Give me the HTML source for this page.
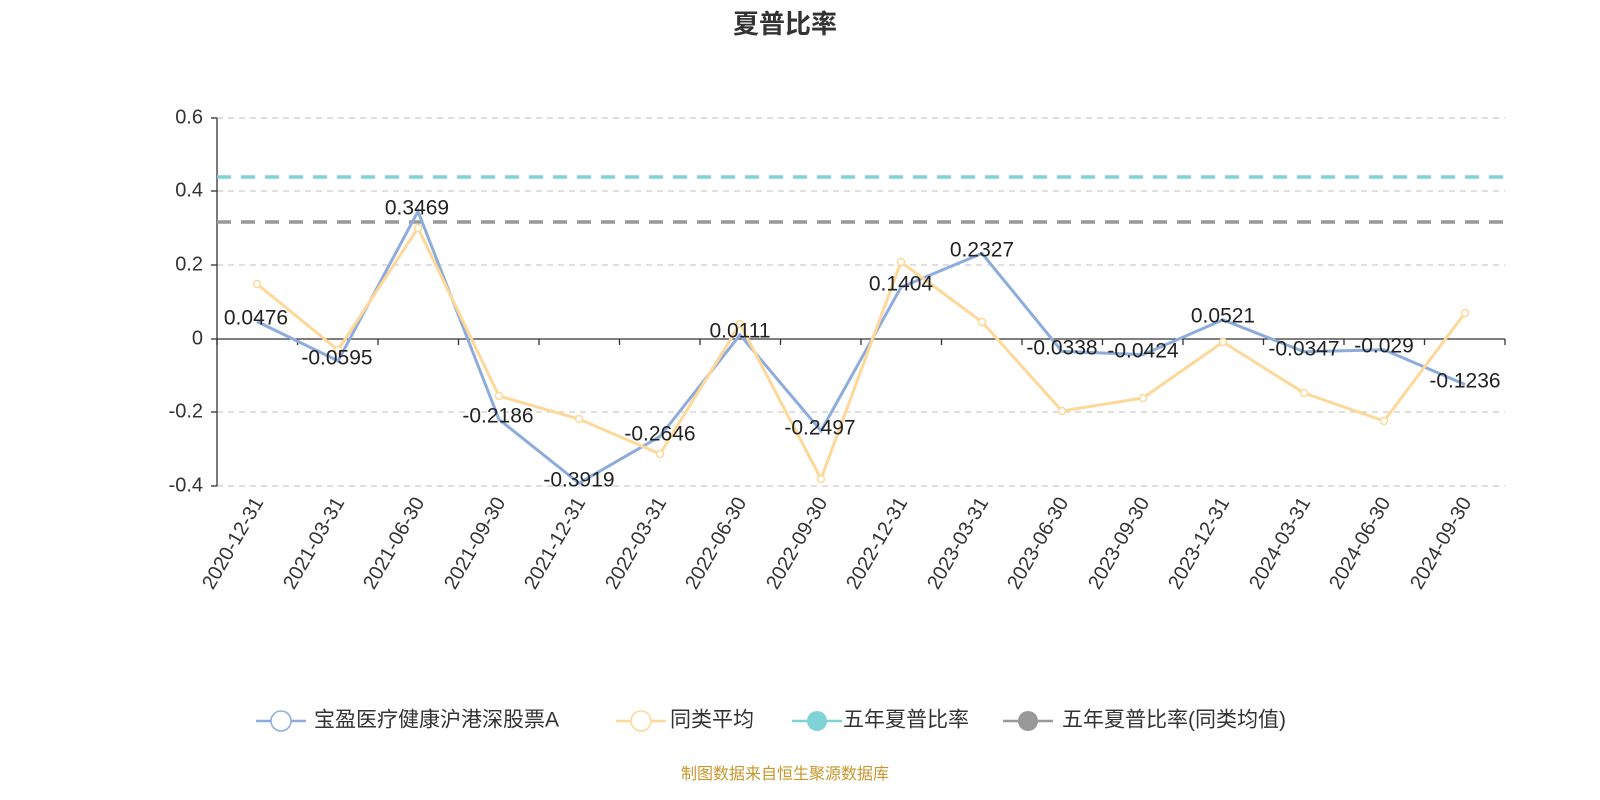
<!DOCTYPE html><html><head><meta charset="utf-8"><style>body{margin:0;background:#fff}svg{display:block}text{font-family:"Liberation Sans","Noto Sans CJK SC",sans-serif}</style></head><body>
<svg width="1600" height="800" xmlns="http://www.w3.org/2000/svg">
<text x="785" y="33" text-anchor="middle" font-size="26" font-weight="bold" fill="#333">夏普比率</text>
<g stroke="#ccc" stroke-dasharray="6,5" stroke-width="1.3">
<line x1="217" x2="1505" y1="118" y2="118"/><line x1="217" x2="1505" y1="191" y2="191"/><line x1="217" x2="1505" y1="265" y2="265"/><line x1="217" x2="1505" y1="412" y2="412"/><line x1="217" x2="1505" y1="486" y2="486"/></g>
<g font-size="20" fill="#333" text-anchor="end" dominant-baseline="middle">
<text x="203" y="118">0.6</text><text x="203" y="191">0.4</text><text x="203" y="265">0.2</text><text x="203" y="339">0</text><text x="203" y="412">-0.2</text><text x="203" y="486">-0.4</text></g>
<g stroke="#333" stroke-width="1.3"><line x1="217" x2="217" y1="118" y2="486"/><line x1="211" x2="217" y1="118" y2="118"/><line x1="211" x2="217" y1="191" y2="191"/><line x1="211" x2="217" y1="265" y2="265"/><line x1="211" x2="217" y1="339" y2="339"/><line x1="211" x2="217" y1="412" y2="412"/><line x1="211" x2="217" y1="486" y2="486"/>
<line x1="217" x2="1505" y1="339" y2="339"/>
<path d="M217 339v6M297.5 339v6M378 339v6M458.5 339v6M539 339v6M619.5 339v6M700 339v6M780.5 339v6M861 339v6M941.5 339v6M1022 339v6M1102.5 339v6M1183 339v6M1263.5 339v6M1344 339v6M1424.5 339v6M1505 339v6"/></g>
<line x1="217" x2="1505" y1="177" y2="177" stroke="#7fd3d6" stroke-width="3.5" stroke-dasharray="14,10"/>
<line x1="217" x2="1505" y1="222" y2="222" stroke="#999" stroke-width="3.5" stroke-dasharray="14,10"/>
<polyline fill="none" stroke="#8eacdb" stroke-width="3" points="257,321.5 338,360.9 418,211.3 499,419.4 579,483.2 660,436.4 740,334.9 821,430.9 901,287.3 982,253.4 1062,351.4 1143,354.6 1223,319.8 1304,351.8 1384,349.7 1465,384.5"/>
<polyline fill="none" stroke="#fdd898" stroke-width="3" points="257,284 338,350 418,228 499,396 579,419 660,454 740,324 821,479 901,262 982,322 1062,411 1143,398 1223,342 1304,393 1384,421 1465,313"/>
<g fill="#fff" stroke="#fdd898" stroke-width="1.5"><circle cx="257" cy="284" r="3.5"/><circle cx="338" cy="350" r="3.5"/><circle cx="418" cy="228" r="3.5"/><circle cx="499" cy="396" r="3.5"/><circle cx="579" cy="419" r="3.5"/><circle cx="660" cy="454" r="3.5"/><circle cx="740" cy="324" r="3.5"/><circle cx="821" cy="479" r="3.5"/><circle cx="901" cy="262" r="3.5"/><circle cx="982" cy="322" r="3.5"/><circle cx="1062" cy="411" r="3.5"/><circle cx="1143" cy="398" r="3.5"/><circle cx="1223" cy="342" r="3.5"/><circle cx="1304" cy="393" r="3.5"/><circle cx="1384" cy="421" r="3.5"/><circle cx="1465" cy="313" r="3.5"/></g>
<g font-size="21" fill="#222" text-anchor="middle" dominant-baseline="middle">
<text x="256" y="319">0.0476</text><text x="337" y="359">-0.0595</text><text x="417" y="209">0.3469</text><text x="498" y="417">-0.2186</text><text x="579" y="481">-0.3919</text><text x="660" y="435">-0.2646</text><text x="740" y="332">0.0111</text><text x="820" y="429">-0.2497</text><text x="901" y="285">0.1404</text><text x="982" y="251">0.2327</text><text x="1062" y="349">-0.0338</text><text x="1143" y="352">-0.0424</text><text x="1223" y="317">0.0521</text><text x="1304" y="350">-0.0347</text><text x="1384" y="347">-0.029</text><text x="1465" y="382">-0.1236</text></g>
<g font-size="20" fill="#333" text-anchor="end">
<text transform="translate(264,502) rotate(-60)">2020-12-31</text><text transform="translate(345,502) rotate(-60)">2021-03-31</text><text transform="translate(425,502) rotate(-60)">2021-06-30</text><text transform="translate(506,502) rotate(-60)">2021-09-30</text><text transform="translate(586,502) rotate(-60)">2021-12-31</text><text transform="translate(667,502) rotate(-60)">2022-03-31</text><text transform="translate(747,502) rotate(-60)">2022-06-30</text><text transform="translate(828,502) rotate(-60)">2022-09-30</text><text transform="translate(908,502) rotate(-60)">2022-12-31</text><text transform="translate(989,502) rotate(-60)">2023-03-31</text><text transform="translate(1069,502) rotate(-60)">2023-06-30</text><text transform="translate(1150,502) rotate(-60)">2023-09-30</text><text transform="translate(1230,502) rotate(-60)">2023-12-31</text><text transform="translate(1311,502) rotate(-60)">2024-03-31</text><text transform="translate(1391,502) rotate(-60)">2024-06-30</text><text transform="translate(1472,502) rotate(-60)">2024-09-30</text></g>
<g stroke-width="2.5">
<line x1="256" x2="306" y1="721" y2="721" stroke="#8eacdb"/><circle cx="281" cy="721" r="10" fill="#fff" stroke="#8eacdb" stroke-width="1.5"/>
<line x1="616" x2="666" y1="721" y2="721" stroke="#fdd898"/><circle cx="641" cy="721" r="10" fill="#fff" stroke="#fdd898" stroke-width="1.5"/>
<line x1="792" x2="842" y1="721" y2="721" stroke="#7fd3d6"/><circle cx="817" cy="721" r="10" fill="#7fd3d6"/>
<line x1="1003" x2="1053" y1="721" y2="721" stroke="#999"/><circle cx="1028" cy="721" r="10" fill="#999"/></g>
<g font-size="21" fill="#333" dominant-baseline="middle">
<text x="314" y="721">宝盈医疗健康沪港深股票A</text><text x="670" y="721">同类平均</text><text x="843" y="721">五年夏普比率</text><text x="1062" y="721">五年夏普比率(同类均值)</text></g>
<text x="785" y="779" text-anchor="middle" font-size="16" fill="#c8962c">制图数据来自恒生聚源数据库</text>
</svg></body></html>
